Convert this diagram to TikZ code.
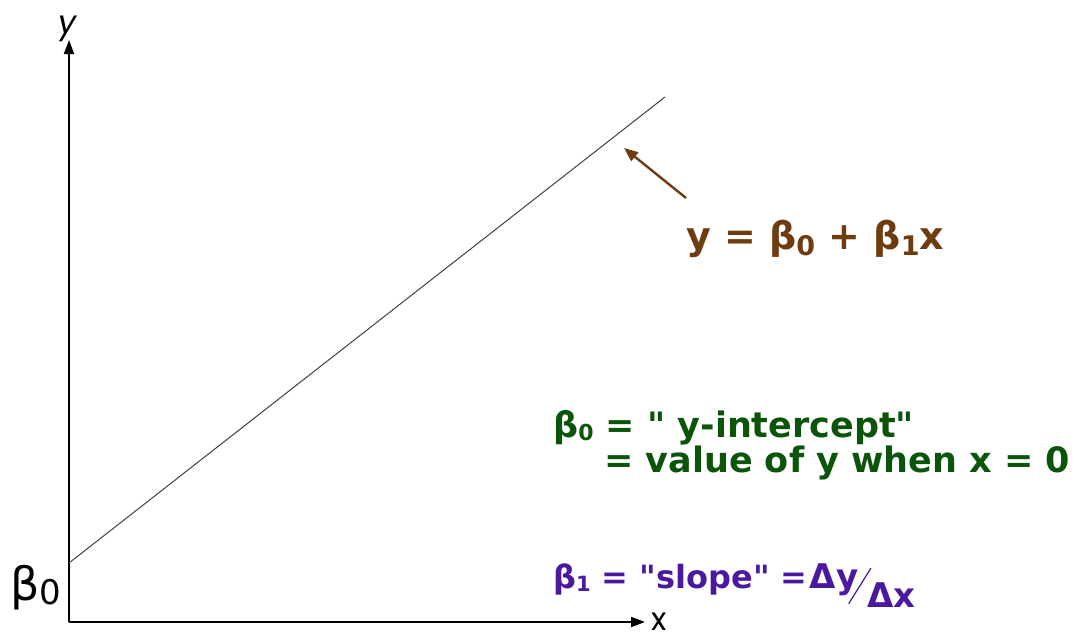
\documentclass[tikz,border=0pt]{standalone}
\usepackage{fontspec}
\setmainfont{DejaVu Sans}[Ligatures=TeXOff]
\newfontfamily\pop{Poppins}
\usetikzlibrary{arrows.meta}
\definecolor{brownc}{RGB}{110,60,15}
\definecolor{greenc}{RGB}{10,85,10}
\definecolor{purplec}{RGB}{75,25,160}
\tikzset{
  axis/.style={line width=1.8pt, -{Triangle[length=14pt,width=10pt]}},
  lbl/.style={inner sep=0pt, font=\bfseries\fontsize{35}{36}\selectfont},
}
\begin{document}
\begin{tikzpicture}[x=1pt,y=-1pt]
\useasboundingbox (0,0) rectangle (1079,637);
\coordinate (O) at (69,622);
\coordinate (ytip) at (69,40);
\coordinate (xtip) at (645,622);
\coordinate (L0) at (69,563);
\coordinate (L1) at (665,97);
\coordinate (aS) at (686,198);
\coordinate (aE) at (624,148);
\draw[axis] (O) -- (ytip);
\draw[axis] (O) -- (xtip);
\draw[line width=1pt, black!75] (L0) -- (L1);
\draw[brownc, line width=2.4pt, -{Triangle[length=14pt,width=11pt]}] (aS) -- (aE);
\node[inner sep=0pt, anchor=base, font=\pop\itshape\fontsize{32}{32}\selectfont] (ylab) at (68,34) {y};
\node[inner sep=0pt, anchor=base west, font=\pop\fontsize{32}{32}\selectfont] (xlab) at (651,630) {x};
\node[inner sep=0pt, anchor=base west, font=\fontsize{46}{50}\selectfont] (b0) at (10,600) {β\raisebox{-4pt}{\fontsize{34}{34}\selectfont 0}};
\node[inner sep=0pt, anchor=base west, text=brownc, font=\bfseries\fontsize{38}{40}\selectfont] (eq) at (686,249)
  {y = β\raisebox{-6pt}{\fontsize{27}{27}\selectfont 0} + β\raisebox{-6pt}{\fontsize{27}{27}\selectfont 1}x};
\node[lbl, anchor=base west, text=greenc] (g1) at (553,437)
  {β\raisebox{-3pt}{\fontsize{22}{22}\selectfont 0} = " y-intercept"};
\node[lbl, anchor=base west, text=greenc] (g2) at (604,472)
  {= value of y when x = 0};
\node[inner sep=0pt, anchor=base west, text=purplec, font=\bfseries\fontsize{32}{34}\selectfont] (p1) at (553,588)
  {β\raisebox{-3pt}{\fontsize{21}{21}\selectfont 1} = "slope" =\kern2pt\fontsize{34}{34}\selectfont Δy\kern-10pt\raisebox{-16pt}{\rotatebox{58}{\rule{42pt}{1.2pt}}}\kern-4pt\raisebox{-19pt}{Δx}};
\end{tikzpicture}
\end{document}
